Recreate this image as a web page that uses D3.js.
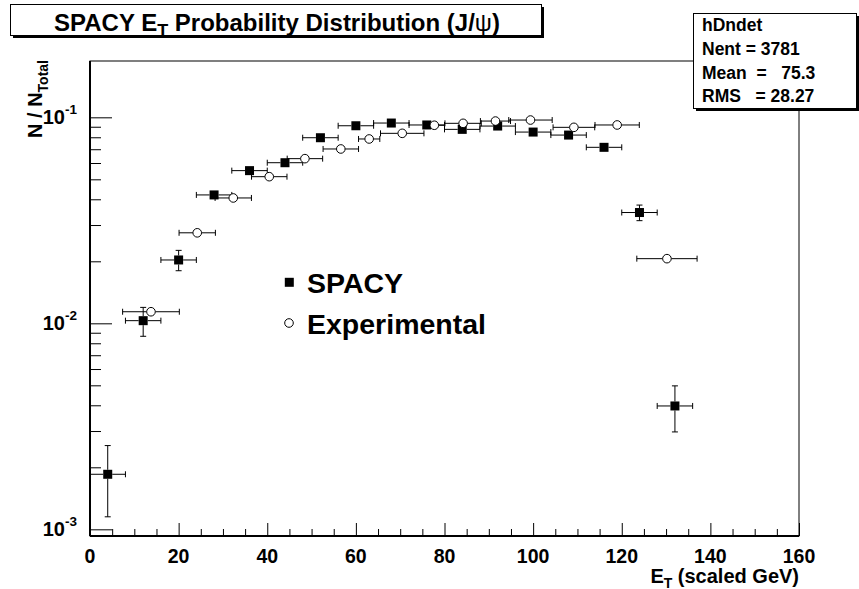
<!DOCTYPE html>
<html><head><meta charset="utf-8">
<script src="https://cdn.jsdelivr.net/npm/d3@7/dist/d3.min.js"></script>
<style>
html,body{margin:0;padding:0;background:#fff;}
text{font-family:"Liberation Sans",Arial,Helvetica,sans-serif;font-weight:bold;fill:#000;}
</style></head>
<body>
<svg id="c" width="859" height="589"></svg>
<script>
// ---- data ----
const spacyX = [4,12,20,28,36,44,52,60,68,76,84,92,100,108,116,124,132];
const spacyXErr = [4,4,4,4,4,4,4,4,4,4,4,4,4,4,4,4,4];
const spacyY = [0.00185,0.0103,0.0203,0.0420,0.0551,0.0602,0.0796,0.0910,0.0938,0.0918,0.0874,0.0907,0.0848,0.0820,0.0715,0.0345,0.00397];
const spacyYErr = [0.0007,0.00165,0.0023,0.002,0.0022,0.0023,0.0027,0.0029,0.003,0.003,0.0029,0.003,0.0029,0.0028,0.0026,0.003,0.001];

const expX = [13.76,24.2,32.33,40.45,48.5,56.6,63.0,70.46,77.7,84.2,91.5,99.4,109.2,118.96,130.2];
const expXErr = [6.4,4.1,4.1,4.0,4.0,4.0,2.4,4.9,2.3,4.1,3.4,4.9,4.7,5.0,6.8];
const expY = [0.01138,0.0275,0.0406,0.0515,0.0630,0.0702,0.0785,0.0836,0.0915,0.0935,0.0959,0.0970,0.0894,0.0918,0.0206];

const xMajorTicks = [0,20,40,60,80,100,120,140,160];
const xDomain = [0,160];
const yDomain = [0.000928,0.18766];
const yDecades = [{v:0.1,exp:"-1"},{v:0.01,exp:"-2"},{v:0.001,exp:"-3"}];
const statsLines = ["hDndet","Nent = 3781","Mean  =   75.3","RMS   = 28.27"];

// ---- layout ----
const L=90,R=799,T=61,B=536;
const svg=d3.select("#c");
const x=d3.scaleLinear().domain(xDomain).range([L,R]);
const y=d3.scaleLog().domain(yDomain).range([B,T]);

// frame
svg.append("rect").attr("x",L).attr("y",T).attr("width",R-L).attr("height",B-T)
  .attr("fill","none").attr("stroke","#000").attr("stroke-width",1);

// x axis
const xMinor=d3.range(0,161,5).filter(v=>v%20!==0);
const gx=svg.append("g").attr("transform",`translate(0,${B})`);
gx.call(d3.axisBottom(x).tickValues(xMinor).tickSize(-7).tickFormat("")).call(g=>g.select(".domain").remove());
gx.call(g=>g.append("g").call(d3.axisBottom(x).tickValues(xMajorTicks).tickSize(-13).tickFormat("")).call(a=>a.select(".domain").remove()));
gx.selectAll("line").attr("stroke","#000").attr("stroke-width",1);
svg.append("line").attr("x1",L).attr("x2",R).attr("y1",B).attr("y2",B).attr("stroke","#000").attr("stroke-width",2);
svg.selectAll(".xl").data(xMajorTicks).enter().append("text").attr("class","xl")
  .attr("x",d=>x(d)).attr("y",562.5).attr("text-anchor","middle").attr("font-size",19.5).text(d=>d);

// y axis
const yMinor=[];
[0.001,0.01,0.1].forEach(d=>{for(let k=2;k<=9;k++){const v=d*k;if(v>=yDomain[0]&&v<=yDomain[1])yMinor.push(v);}});
const gy=svg.append("g").attr("transform",`translate(${L},0)`);
gy.call(d3.axisLeft(y).tickValues(yMinor).tickSize(-11).tickFormat("")).call(g=>g.select(".domain").remove());
gy.call(g=>g.append("g").call(d3.axisLeft(y).tickValues(yDecades.map(d=>d.v)).tickSize(-22).tickFormat("")).call(a=>a.select(".domain").remove()));
gy.selectAll("line").attr("stroke","#000").attr("stroke-width",1);
svg.append("line").attr("x1",L).attr("x2",L).attr("y1",T).attr("y2",B).attr("stroke","#000").attr("stroke-width",2);
yDecades.forEach(d=>{
  const t=svg.append("text").attr("x",77).attr("y",y(d.v)+6.5).attr("text-anchor","end").attr("font-size",20);
  t.append("tspan").text("10");
  t.append("tspan").attr("font-size",13.5).attr("dy",-10).text(d.exp);
});

// axis titles
const xt=svg.append("text").attr("x",799).attr("y",582.5).attr("text-anchor","end").attr("font-size",20);
xt.append("tspan").text("E");
xt.append("tspan").attr("font-size",14).attr("dy",5).text("T");
xt.append("tspan").attr("dy",-5).text(" (scaled GeV)");
const yt=svg.append("text").attr("transform","translate(42,60) rotate(-90)").attr("text-anchor","end").attr("font-size",20);
yt.append("tspan").text("N / N");
yt.append("tspan").attr("font-size",14).attr("dy",6).text("Total");

// error bars + markers
const MS=9, CAP=3;
function errBars(xs,xe,ys,ye,half){
  const g=svg.append("g").attr("stroke","#000").attr("stroke-width",1);
  xs.forEach((xv,i)=>{
    const px=x(xv), py=y(ys[i]);
    const x0=x(xv-xe[i]), x1=x(xv+xe[i]);
    if(px-half>x0){g.append("line").attr("x1",x0).attr("x2",px-half).attr("y1",py).attr("y2",py);
      g.append("line").attr("x1",x0).attr("x2",x0).attr("y1",py-CAP).attr("y2",py+CAP);}
    if(x1>px+half){g.append("line").attr("x1",px+half).attr("x2",x1).attr("y1",py).attr("y2",py);
      g.append("line").attr("x1",x1).attr("x2",x1).attr("y1",py-CAP).attr("y2",py+CAP);}
    if(ye){
      const yTop=y(ys[i]+ye[i]), yBot=y(ys[i]-ye[i]);
      if(yTop<py-half){g.append("line").attr("x1",px).attr("x2",px).attr("y1",yTop).attr("y2",py-half);
        g.append("line").attr("x1",px-CAP).attr("x2",px+CAP).attr("y1",yTop).attr("y2",yTop);}
      if(yBot>py+half){g.append("line").attr("x1",px).attr("x2",px).attr("y1",py+half).attr("y2",yBot);
        g.append("line").attr("x1",px-CAP).attr("x2",px+CAP).attr("y1",yBot).attr("y2",yBot);}
    }
  });
}
errBars(spacyX,spacyXErr,spacyY,spacyYErr,MS/2);
errBars(expX,expXErr,expY,null,4.3);
svg.selectAll(".sq").data(spacyX).enter().append("rect").attr("class","sq")
  .attr("x",(d)=>x(d)-MS/2).attr("y",(d,i)=>y(spacyY[i])-MS/2).attr("width",MS).attr("height",MS).attr("fill","#000");
svg.selectAll(".ci").data(expX).enter().append("circle").attr("class","ci")
  .attr("cx",d=>x(d)).attr("cy",(d,i)=>y(expY[i])).attr("r",4.3).attr("fill","#fff").attr("stroke","#000").attr("stroke-width",1);

// legend
svg.append("rect").attr("x",289.3-MS/2).attr("y",282.3-MS/2).attr("width",MS).attr("height",MS).attr("fill","#000");
svg.append("circle").attr("cx",289).attr("cy",323).attr("r",4.3).attr("fill","#fff").attr("stroke","#000");
svg.append("text").attr("x",307).attr("y",292.5).attr("font-size",28.5).text("SPACY");
svg.append("text").attr("x",307).attr("y",333.5).attr("font-size",28.5).text("Experimental");

// title box
svg.append("rect").attr("x",13).attr("y",7).attr("width",531).attr("height",31).attr("fill","#000");
svg.append("rect").attr("x",10.5).attr("y",4.5).attr("width",531).attr("height",31).attr("fill","#fff").attr("stroke","#000");
const tt=svg.append("text").attr("x",277).attr("y",31).attr("text-anchor","middle").attr("font-size",24);
tt.append("tspan").text("SPACY E");
tt.append("tspan").attr("font-size",18).attr("dy",6).text("T");
tt.append("tspan").attr("dy",-6).text(" Probability Distribution (J/");
tt.append("tspan").attr("font-weight","normal").text("ψ");
tt.append("tspan").text(")");

// stats box
svg.append("rect").attr("x",696).attr("y",16).attr("width",163).attr("height",95).attr("fill","#000");
svg.append("rect").attr("x",693.5).attr("y",13.5).attr("width",163).attr("height",95).attr("fill","#fff").attr("stroke","#000");
statsLines.forEach((s,i)=>{
  svg.append("text").attr("x",702).attr("y",31+i*23.8).attr("font-size",17.5).attr("xml:space","preserve").style("white-space","pre").text(s);
});
</script>
</body></html>
